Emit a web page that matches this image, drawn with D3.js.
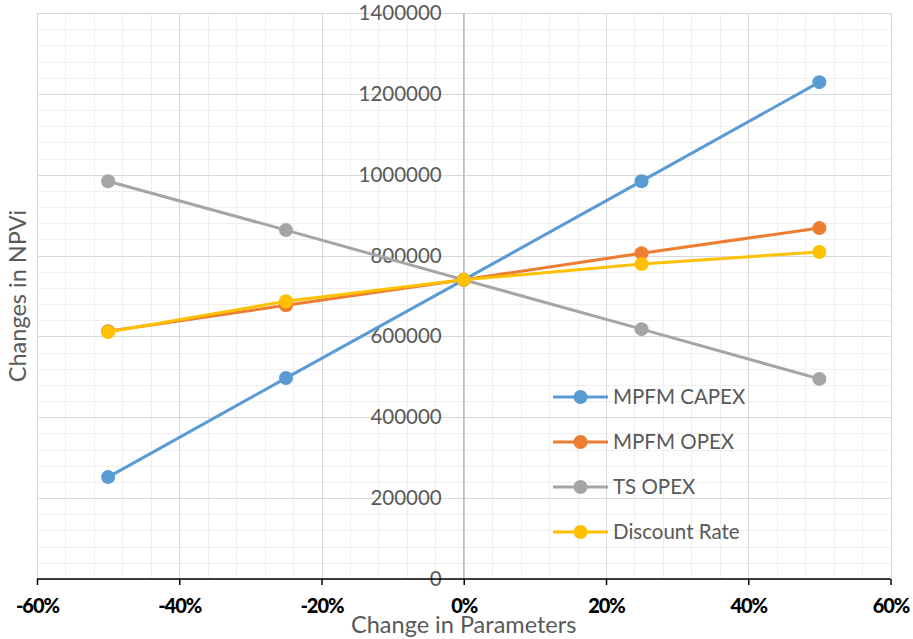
<!DOCTYPE html>
<html>
<head>
<meta charset="utf-8">
<script src="https://cdn.jsdelivr.net/npm/d3@7"></script>
<style>
  html, body { margin: 0; padding: 0; background: #fff; }
  svg { display: block; font-family: Lato, "Open Sans", sans-serif; }
</style>
</head>
<body>
<svg id="chart" width="913" height="639"></svg>
<script>
// Sensitivity of NPVi to a change in each input parameter
const changes = [-0.5, -0.25, 0, 0.25, 0.5];
const mpfmCapex = [252000, 497000, 740000, 984000, 1229000];
const mpfmOpex = [613000, 677000, 740000, 806000, 868000];
const tsOpex = [984000, 863000, 740000, 618000, 495000];
const discountRate = [611000, 687000, 740000, 779000, 809000];

const seriesNames = ["MPFM CAPEX", "MPFM OPEX", "TS OPEX", "Discount Rate"];
const seriesColors = ["#5B9BD5", "#ED7D31", "#A5A5A5", "#FFC000"];
const seriesValues = [mpfmCapex, mpfmOpex, tsOpex, discountRate];

const xTicks = [-0.6, -0.4, -0.2, 0, 0.2, 0.4, 0.6];
const yTicks = [0, 200000, 400000, 600000, 800000, 1000000, 1200000, 1400000];

const svg = d3.select("#chart");
const plot = { left: 37, right: 890.5, top: 13, bottom: 579 };

const x = d3.scaleLinear().domain([-0.6, 0.6]).range([plot.left, plot.right]);
const y = d3.scaleLinear().domain([0, 1400000]).range([plot.bottom, plot.top]);

// minor grid (every 4% / 40000)
const minorX = d3.range(-0.6, 0.6001, 0.04).map(v => +v.toFixed(2));
const minorY = d3.range(0, 1400001, 40000);
const grid = svg.append("g").attr("shape-rendering", "crispEdges");
grid.selectAll("line.mx").data(minorX).join("line")
  .attr("x1", d => Math.round(x(d)) + 0.5).attr("x2", d => Math.round(x(d)) + 0.5)
  .attr("y1", plot.top).attr("y2", plot.bottom)
  .attr("stroke", "#efefef").attr("stroke-width", 1.5);
grid.selectAll("line.my").data(minorY).join("line")
  .attr("y1", d => Math.round(y(d)) + 0.5).attr("y2", d => Math.round(y(d)) + 0.5)
  .attr("x1", plot.left).attr("x2", plot.right)
  .attr("stroke", "#efefef").attr("stroke-width", 1.5);
// major grid
grid.selectAll("line.Mx").data(xTicks).join("line")
  .attr("x1", d => Math.round(x(d)) + 0.5).attr("x2", d => Math.round(x(d)) + 0.5)
  .attr("y1", plot.top).attr("y2", plot.bottom)
  .attr("stroke", "#d9d9d9").attr("stroke-width", 1.5);
grid.selectAll("line.My").data(yTicks).join("line")
  .attr("y1", d => Math.round(y(d)) + 0.5).attr("y2", d => Math.round(y(d)) + 0.5)
  .attr("x1", plot.left).attr("x2", plot.right)
  .attr("stroke", "#d9d9d9").attr("stroke-width", 1.5);

// vertical value axis at 0%
svg.append("line")
  .attr("x1", x(0)).attr("x2", x(0))
  .attr("y1", plot.top).attr("y2", plot.bottom)
  .attr("stroke", "#bfbfbf").attr("stroke-width", 1.5);

// value axis labels, left of the 0% axis
const yAxis = d3.axisLeft(y).tickValues(yTicks).tickSize(0).tickPadding(22)
  .tickFormat(d3.format("d"));
const yg = svg.append("g").attr("transform", `translate(${x(0)},0)`).call(yAxis);
yg.select(".domain").remove();
yg.selectAll("text")
  .attr("font-family", "Lato, sans-serif")
  .attr("font-size", 20.5)
  .attr("fill", "#595959");

// horizontal category axis at the bottom
const pct = d => Math.round(d * 100) + "%";
const xAxis = d3.axisBottom(x).tickValues(xTicks).tickSize(6).tickPadding(14)
  .tickFormat(pct);
const xg = svg.append("g").attr("transform", `translate(0,${plot.bottom})`).call(xAxis);
xg.select(".domain").attr("stroke", "#000").attr("stroke-width", 1.5)
  .attr("d", `M${plot.left},0H${plot.right}`);
xg.selectAll(".tick line").attr("stroke", "#000").attr("stroke-width", 1.5);
xg.selectAll("text")
  .attr("font-family", "Lato, sans-serif")
  .attr("font-weight", 900)
  .attr("font-size", 20)
  .attr("letter-spacing", -1)
  .attr("fill", "#000");

// series lines and markers
const line = d3.line().x((d, i) => x(changes[i])).y(d => y(d));
seriesValues.forEach((vals, s) => {
  const g = svg.append("g");
  g.append("path").datum(vals)
    .attr("d", line)
    .attr("fill", "none")
    .attr("stroke", seriesColors[s])
    .attr("stroke-width", 3)
    .attr("stroke-linejoin", "round");
  g.selectAll("circle").data(vals).join("circle")
    .attr("cx", (d, i) => x(changes[i]))
    .attr("cy", d => y(d))
    .attr("r", 7)
    .attr("fill", seriesColors[s]);
});

// legend
const legend = svg.append("g").attr("transform", "translate(553,397)");
seriesNames.forEach((name, i) => {
  const g = legend.append("g").attr("transform", `translate(0,${i * 45})`);
  g.append("line").attr("x1", 0).attr("x2", 55).attr("y1", 0).attr("y2", 0)
    .attr("stroke", seriesColors[i]).attr("stroke-width", 3);
  g.append("circle").attr("cx", 27.5).attr("cy", 0).attr("r", 7).attr("fill", seriesColors[i]);
  g.append("text").attr("x", 60).attr("y", 0).attr("dy", "0.35em")
    .attr("font-size", 20.5).attr("fill", "#595959").text(name);
});

// axis titles
svg.append("text")
  .attr("x", x(0)).attr("y", 633)
  .attr("text-anchor", "middle")
  .attr("font-size", 23.5).attr("fill", "#595959")
  .text("Change in Parameters");
svg.append("text")
  .attr("transform", `translate(26,${(plot.top + plot.bottom) / 2}) rotate(-90)`)
  .attr("text-anchor", "middle")
  .attr("font-size", 23.5).attr("fill", "#595959")
  .text("Changes in NPVi");
</script>
</body>
</html>
